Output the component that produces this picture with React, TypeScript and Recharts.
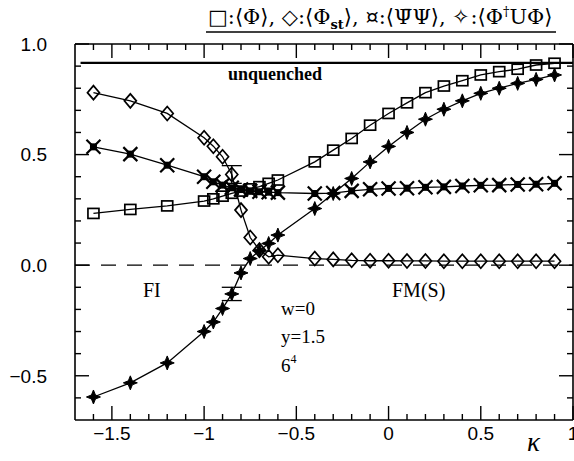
import { ComposedChart, Line, XAxis, YAxis, ErrorBar, ReferenceLine } from 'recharts'

// hopping parameter kappa
const kappa = [
  -1.6, -1.4, -1.2, -1.0, -0.95, -0.9, -0.85, -0.8, -0.75, -0.7, -0.65, -0.6,
  -0.4, -0.3, -0.2, -0.1, 0, 0.1, 0.2, 0.3, 0.4, 0.5, 0.6, 0.7, 0.8, 0.9,
]
// <Phi>  (squares)
const phi = [
  0.234, 0.252, 0.268, 0.29, 0.3, 0.312, 0.325, 0.335, 0.345, 0.355, 0.37, 0.385,
  0.467, 0.52, 0.573, 0.633, 0.686, 0.734, 0.78, 0.81, 0.834, 0.86, 0.875, 0.886, 0.905, 0.913,
]
// <Phi_st>  (diamonds)
const phiSt = [
  0.78, 0.743, 0.686, 0.576, 0.538, 0.49, 0.41, 0.249, 0.125, 0.068, 0.038, 0.045,
  0.03, 0.026, 0.022, 0.02, 0.02, 0.019, 0.019, 0.018, 0.018, 0.018, 0.018, 0.018, 0.018, 0.018,
]
// <PsiBar Psi>  (crosses)
const psiPsi = [
  0.535, 0.502, 0.452, 0.4, 0.377, 0.362, 0.35, 0.342, 0.336, 0.332, 0.33, 0.328,
  0.324, 0.326, 0.336, 0.343, 0.347, 0.348, 0.352, 0.354, 0.358, 0.361, 0.362, 0.365, 0.366, 0.37,
]
// <Phi^+ U Phi>  (stars)
const phiUPhi = [
  -0.596, -0.532, -0.442, -0.3, -0.257, -0.196, -0.13, -0.035, 0.03, 0.065, 0.098, 0.136,
  0.256, 0.324, 0.392, 0.467, 0.537, 0.6, 0.66, 0.705, 0.743, 0.777, 0.8, 0.822, 0.84, 0.86,
]
const errSt = [0, 0, 0, 0, 0, 0, 0.04, 0, 0, 0, 0, 0, 0, 0, 0, 0, 0, 0, 0, 0, 0, 0, 0, 0, 0, 0]
const errU = [0, 0, 0, 0, 0, 0, 0.03, 0, 0, 0, 0, 0, 0, 0, 0, 0, 0, 0, 0, 0, 0, 0, 0, 0, 0, 0]

const unquenched = 0.915
const xMajor = [-1.5, -1, -0.5, 0, 0.5, 1]
const xMinor = [-1.6, -1.4, -1.3, -1.2, -1.1, -0.9, -0.8, -0.7, -0.6, -0.4, -0.3, -0.2, -0.1, 0.1, 0.2, 0.3, 0.4, 0.6, 0.7, 0.8, 0.9]
const yMajor = [-0.5, 0, 0.5, 1]
const yMinor = [-0.6, -0.4, -0.3, -0.2, -0.1, 0.1, 0.2, 0.3, 0.4, 0.6, 0.7, 0.8, 0.9]

const rows = kappa.map((k, i) => ({
  k,
  phi: phi[i],
  phiSt: phiSt[i],
  psi: psiPsi[i],
  phiU: phiUPhi[i],
  errSt: errSt[i],
  errU: errU[i],
}))

const W = 574
const H = 461
const M = { top: 44, right: 1, bottom: 0, left: 0 }
const Y_W = 75
const X_H = 41
const PLOT_L = M.left + Y_W
const PLOT_R = W - M.right
const PLOT_T = M.top
const PLOT_B = H - M.bottom - X_H
const XDOM: [number, number] = [-1.7, 1.0]
const YDOM: [number, number] = [-0.7, 1.0]
const ink = '#000'
const minus = (s: string) => s.replace('-', '\u2212')
const near = (a: number[], v: number) => a.some((m) => Math.abs(m - v) < 1e-6)

const labelFont = 'Liberation Sans, Arial, sans-serif'

// tick labels plus inward tick marks on bottom and top frame
const XTick = (p: any) => {
  const v = p.payload.value as number
  const major = near(xMajor, v)
  const len = major ? 14 : 6
  return (
    <g>
      <line x1={p.x} x2={p.x} y1={PLOT_B} y2={PLOT_B - len} stroke={ink} strokeWidth={1.4} />
      <line x1={p.x} x2={p.x} y1={PLOT_T} y2={PLOT_T + len} stroke={ink} strokeWidth={1.4} />
      {major && (
        <text x={p.x} y={p.y} dy="0.71em" textAnchor="middle" fontSize={19} fontFamily={labelFont} fill={ink}>
          {minus(String(v))}
        </text>
      )}
    </g>
  )
}
const YTick = (p: any) => {
  const v = p.payload.value as number
  const major = near(yMajor, v)
  const len = major ? 14 : 6
  return (
    <g>
      <line x1={PLOT_L} x2={PLOT_L + len} y1={p.y} y2={p.y} stroke={ink} strokeWidth={1.4} />
      <line x1={PLOT_R} x2={PLOT_R - len} y1={p.y} y2={p.y} stroke={ink} strokeWidth={1.4} />
      {major && (
        <text x={p.x} y={p.y} dy="0.355em" textAnchor="end" fontSize={19} fontFamily={labelFont} fill={ink}>
          {minus(v.toFixed(1))}
        </text>
      )}
    </g>
  )
}

const Square = (p: any) =>
  p.cx == null ? null : (
    <rect key={p.index} x={p.cx - 5.5} y={p.cy - 5} width={11} height={10} fill="none" stroke={ink} strokeWidth={1.7} />
  )
const Diamond = (p: any) =>
  p.cx == null ? null : (
    <path key={p.index} d={`M${p.cx},${p.cy - 7}L${p.cx + 6},${p.cy}L${p.cx},${p.cy + 7}L${p.cx - 6},${p.cy}Z`} fill="none" stroke={ink} strokeWidth={1.7} />
  )
const Cross = (p: any) =>
  p.cx == null ? null : (
    <g key={p.index}>
      <rect x={p.cx - 3.5} y={p.cy - 3.5} width={7} height={7} fill={ink} />
      <path d={`M${p.cx - 7},${p.cy - 7}L${p.cx + 7},${p.cy + 7}M${p.cx + 7},${p.cy - 7}L${p.cx - 7},${p.cy + 7}`} stroke={ink} strokeWidth={2.2} />
    </g>
  )
const Star = (p: any) => {
  if (p.cx == null) return null
  const { cx, cy } = p
  const r = 7
  const q = 2
  return (
    <path
      key={p.index}
      d={`M${cx},${cy - r}L${cx + q},${cy - q}L${cx + r},${cy}L${cx + q},${cy + q}L${cx},${cy + r}L${cx - q},${cy + q}L${cx - r},${cy}L${cx - q},${cy - q}Z`}
      fill={ink}
      stroke={ink}
      strokeWidth={1}
    />
  )
}

const serif = 'Liberation Serif, DejaVu Serif, serif'

export default function App() {
  return (
    <div style={{ position: 'relative', width: W, height: H, background: '#fff' }}>
      <style>{'body{margin:0}'}</style>
      <ComposedChart width={W} height={H} data={rows} margin={M}>
        <XAxis
          xAxisId="k"
          dataKey="k"
          type="number"
          domain={XDOM}
          allowDataOverflow
          ticks={[...xMajor, ...xMinor].sort((a, b) => a - b)}
          interval={0}
          height={X_H}
          tickLine={false}
          tickSize={0}
          tickMargin={7}
          tick={XTick}
          axisLine={{ stroke: ink, strokeWidth: 1.6 }}
        />
        <YAxis
          yAxisId="v"
          type="number"
          domain={YDOM}
          allowDataOverflow
          ticks={[...yMajor, ...yMinor].sort((a, b) => a - b)}
          interval={0}
          width={Y_W}
          tickLine={false}
          tickSize={0}
          tickMargin={28}
          tick={YTick}
          axisLine={{ stroke: ink, strokeWidth: 1.6 }}
        />

        <ReferenceLine xAxisId="k" yAxisId="v" y={1.0} stroke={ink} strokeWidth={1.6} />
        <ReferenceLine xAxisId="k" yAxisId="v" x={1.0} stroke={ink} strokeWidth={1.6} />
        <ReferenceLine xAxisId="k" yAxisId="v" y={0} stroke={ink} strokeWidth={1.3} strokeDasharray="15 11" />
        <ReferenceLine
          xAxisId="k"
          yAxisId="v"
          segment={[{ x: -1.67, y: unquenched }, { x: 1.0, y: unquenched }]}
          stroke={ink}
          strokeWidth={2.2}
        />

        <Line xAxisId="k" yAxisId="v" dataKey="phi" type="linear" stroke={ink} strokeWidth={1.3} dot={Square} isAnimationActive={false} />
        <Line xAxisId="k" yAxisId="v" dataKey="psi" type="linear" stroke={ink} strokeWidth={1.3} dot={Cross} isAnimationActive={false} />
        <Line xAxisId="k" yAxisId="v" dataKey="phiSt" type="linear" stroke={ink} strokeWidth={1.3} dot={Diamond} isAnimationActive={false}>
          <ErrorBar dataKey="errSt" direction="y" width={10} stroke={ink} strokeWidth={1.3} />
        </Line>
        <Line xAxisId="k" yAxisId="v" dataKey="phiU" type="linear" stroke={ink} strokeWidth={1.3} dot={Star} isAnimationActive={false}>
          <ErrorBar dataKey="errU" direction="y" width={10} stroke={ink} strokeWidth={1.3} />
        </Line>
      </ComposedChart>

      <svg width={W} height={H} style={{ position: 'absolute', left: 0, top: 0, pointerEvents: 'none' }}>
        <text x={208} y={24} fontFamily="DejaVu Serif, serif" fontSize={21} fill={ink}>
          □:⟨Φ⟩, ◇:⟨Φ
          <tspan fontSize={13} fontWeight="bold" dy={5}>st</tspan>
          <tspan dy={-5}>⟩, ¤:⟨Ψ̄Ψ⟩, ✧:⟨Φ</tspan>
          <tspan fontSize={13} dy={-8}>†</tspan>
          <tspan dy={8}>UΦ⟩</tspan>
        </text>
        <line x1={206} x2={556} y1={32} y2={32} stroke={ink} strokeWidth={1.6} />
        <text x={228} y={80} fontFamily={serif} fontSize={18} fontWeight="bold" fill={ink}>unquenched</text>
        <text x={143} y={297} fontFamily={serif} fontSize={20} fill={ink}>FI</text>
        <text x={392} y={297} fontFamily={serif} fontSize={20} fill={ink}>FM(S)</text>
        <text x={281} y={315} fontFamily={serif} fontSize={19} fill={ink}>w=0</text>
        <text x={281} y={343} fontFamily={serif} fontSize={19} fill={ink}>y=1.5</text>
        <text x={281} y={372} fontFamily={serif} fontSize={19} fill={ink}>
          6<tspan fontSize={12} dy={-9}>4</tspan>
        </text>
        <text x={527} y={451} fontFamily={serif} fontSize={27} fontStyle="italic" fill={ink}>κ</text>
      </svg>
    </div>
  )
}
